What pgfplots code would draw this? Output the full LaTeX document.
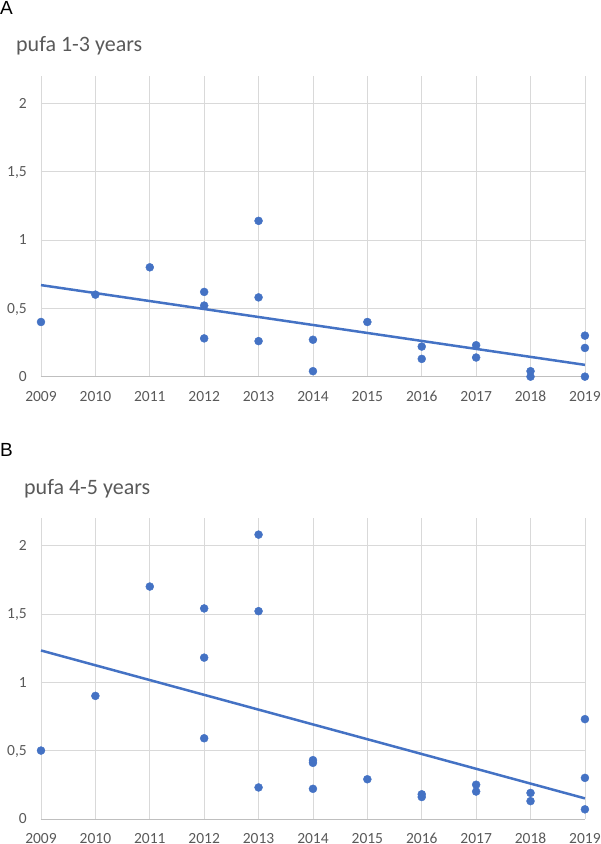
\documentclass[border=0pt]{standalone}
\usepackage{pgfplots}
\pgfplotsset{compat=1.18}
\usepackage{pgfplotstable}
\usepackage{fontspec}
\setmainfont{Carlito}
\newfontfamily\labfont{Liberation Sans}
\definecolor{exblue}{HTML}{4472C4}
\definecolor{txtgray}{HTML}{595959}
\definecolor{gridgray}{HTML}{D9D9D9}
\definecolor{axgray}{HTML}{BFBFBF}

% x = year - 2009
\pgfplotstableread{
x y
0 0.40
1 0.60
2 0.80
3 0.62
3 0.52
3 0.28
4 1.14
4 0.58
4 0.26
5 0.27
5 0.04
6 0.40
7 0.22
7 0.13
8 0.23
8 0.14
9 0.04
9 0.00
10 0.30
10 0.21
10 0.00
}\dataA

\pgfplotstableread{
x y
0 0.50
1 0.90
2 1.70
3 1.54
3 1.18
3 0.59
4 2.08
4 1.52
4 0.23
5 0.43
5 0.41
5 0.22
6 0.29
7 0.18
7 0.16
8 0.25
8 0.20
9 0.19
9 0.13
10 0.73
10 0.30
10 0.07
}\dataB

\pgfplotsset{panel/.style={
  scale only axis, width=544pt, height=300.7pt,
  xmin=0, xmax=10, ymin=0, ymax=2.2,
  xtick={0,1,2,3,4,5,6,7,8,9,10},
  xticklabels={2009,2010,2011,2012,2013,2014,2015,2016,2017,2018,2019},
  ytick={0,0.5,1,1.5,2},
  axis x line*=bottom, axis y line*=left,
  x axis line style={draw=axgray, line width=0.75pt, -},
  y axis line style={draw=none},
  major tick length=0pt,
  grid=major, grid style={draw=gridgray, line width=0.75pt},
  /pgf/number format/use comma,
  /pgf/number format/assume math mode=true,
  tick label style={font=\fontsize{15.5}{18}\selectfont, text=txtgray, inner sep=0pt},
  xticklabel style={anchor=base, yshift=-25pt},
  yticklabel style={anchor=base east, xshift=-14pt, yshift=-5pt},
  clip=false,
}}

\begin{document}
\begin{tikzpicture}
\path (0pt,0pt) rectangle (600pt,844pt);
\node[anchor=base west, inner sep=0pt, font=\labfont\fontsize{19}{22}\selectfont] at (0pt,829pt) {A};
\node[anchor=base west, inner sep=0pt, text=txtgray, font=\fontsize{22}{26}\selectfont] at (16pt,792.3pt) {pufa 1-3 years};
\node[anchor=base west, inner sep=0pt, font=\labfont\fontsize{19}{22}\selectfont] at (0pt,387.3pt) {B};
\node[anchor=base west, inner sep=0pt, text=txtgray, font=\fontsize{22}{26}\selectfont] at (24pt,349.7pt) {pufa 4-5 years};

\begin{axis}[panel, at={(41pt,467.3pt)}, anchor=south west]
\addplot[only marks, mark=*, mark size=4pt, color=exblue] table[x=x,y=y]{\dataA};
\addplot[no marks, color=exblue, line width=2.5pt] table[x=x, y={create col/linear regression={y=y}}]{\dataA};
\end{axis}

\begin{axis}[panel, at={(41pt,25pt)}, anchor=south west]
\addplot[only marks, mark=*, mark size=4pt, color=exblue] table[x=x,y=y]{\dataB};
\addplot[no marks, color=exblue, line width=2.5pt] table[x=x, y={create col/linear regression={y=y}}]{\dataB};
\end{axis}
\end{tikzpicture}
\end{document}
